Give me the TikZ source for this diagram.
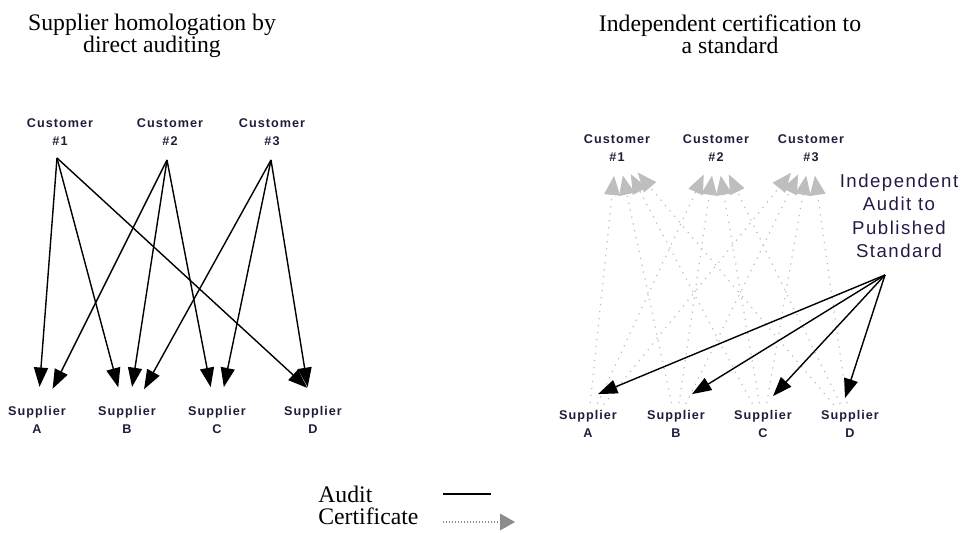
\documentclass[tikz,border=0pt]{standalone}
\usepackage{fontspec}
\setmainfont{Liberation Serif}
\newfontfamily\partyfont[LetterSpace=8]{Liberation Sans}
\newfontfamily\stdfont[LetterSpace=8]{Liberation Sans}
\usetikzlibrary{arrows.meta}
\definecolor{partytext}{RGB}{30,30,60}
\definecolor{stdtext}{RGB}{40,25,70}
\definecolor{certgray}{RGB}{190,190,190}
\definecolor{keygray}{RGB}{140,140,140}
\begin{document}
\begin{tikzpicture}[x=0.02cm,y=-0.02cm,
        title/.style={anchor=north,inner sep=0pt,align=center,font=\fontsize{13.5}{12.5}\selectfont},
        party/.style={inner sep=0pt,align=center,text=partytext,font=\partyfont\bfseries\fontsize{7.2}{10.2}\selectfont},
        stdbox/.style={inner sep=0pt,align=center,text=stdtext,font=\stdfont\fontsize{10.6}{13.3}\selectfont},
        keytext/.style={anchor=west,inner sep=0pt,font=\fontsize{13.5}{12.5}\selectfont},
        audit/.style={black,line width=0.8pt,-{Triangle[length=11pt,width=8pt]}},
        cert/.style={certgray,line width=0.7pt,dash pattern=on 0.7pt off 3.3pt,
                shorten <=4pt,shorten >=8pt,-{Triangle[length=11pt,width=9pt]}}]
        \useasboundingbox (0,0) rectangle (963,533);
        \node[title] (ttlL) at (152,14) {Supplier homologation by\\direct auditing};
        \node[title] (ttlR) at (730,14) {Independent certification to\\a standard};

        \node[party] (lcust1) at (60,132) {Customer\\\#1};
        \node[party] (lcust2) at (170,132) {Customer\\\#2};
        \node[party] (lcust3) at (272,132) {Customer\\\#3};
        \coordinate (lout1) at (57,158);
        \coordinate (lout2) at (167,160);
        \coordinate (lout3) at (271,160);
        \node[party] (lsupA) at (37,420) {Supplier\\A};
        \node[party] (lsupB) at (127,420) {Supplier\\B};
        \node[party] (lsupC) at (217,420) {Supplier\\C};
        \node[party] (lsupD) at (313,420) {Supplier\\D};
        \foreach \c/\s in {lout1/lsupA,lout1/lsupB,lout2/lsupA,lout2/lsupB,lout2/lsupC,lout3/lsupB,lout3/lsupC,lout3/lsupD}
                \draw[audit,shorten >=11pt] (\c) -- (\s);
        \draw[audit,shorten >=27pt] (lout1) -- (lsupD.east);

        \node[party] (rcust1) at (617,148) {Customer\\\#1};
        \node[party] (rcust2) at (716,148) {Customer\\\#2};
        \node[party] (rcust3) at (811,148) {Customer\\\#3};
        \node[party] (rsupA) at (588,424) {Supplier\\A};
        \node[party] (rsupB) at (676,424) {Supplier\\B};
        \node[party] (rsupC) at (763,424) {Supplier\\C};
        \node[party] (rsupD) at (850,424) {Supplier\\D};
        \node[stdbox] (indep) at (899,216) {Independent\\Audit to\\Published\\Standard};
        \coordinate (hub) at (885,275);
        \foreach \s in {rsupA,rsupB,rsupC,rsupD}
                \foreach \c in {rcust1,rcust2,rcust3}
                        \draw[cert] (\s) -- (\c);
        \foreach \s/\dx/\dy in {rsupA/10/16,rsupB/16/16,rsupC/10/14,rsupD/-5/12}
                \draw[audit] (hub) -- ([shift={(\dx,-\dy)}]\s.north);

        \node[keytext] (kaudit) at (318,494) {Audit};
        \node[keytext] (kcert) at (318,516) {Certificate};
        \coordinate (ka1) at (443,494);
        \coordinate (ka2) at (491,494);
        \coordinate (kc1) at (443,522);
        \coordinate (kc2) at (515,522);
        \draw[black,line width=1pt] (ka1) -- (ka2);
        \draw[keygray,line width=0.6pt,dash pattern=on 0.5pt off 1.2pt,-{Triangle[length=8.5pt,width=9.5pt]}] (kc1) -- (kc2);
\end{tikzpicture}
\end{document}
